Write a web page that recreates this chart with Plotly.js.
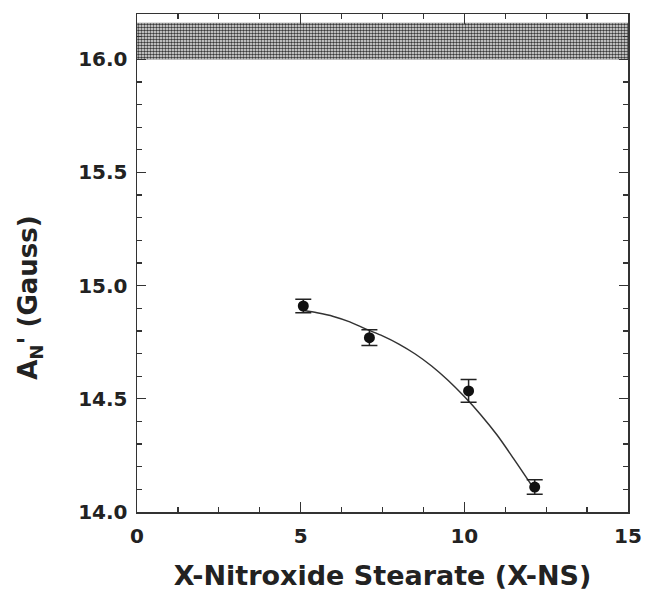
<!DOCTYPE html>
<html>
<head>
<meta charset="utf-8">
<script src="https://cdn.plot.ly/plotly-3.0.1.min.js"></script>
<style>html,body{margin:0;padding:0;background:#fff;}#chart{width:649px;height:601px;}</style>
</head>
<body>
<div id="chart"></div>
<script>
// Data points (position of nitroxide label vs hyperfine splitting)
var pointX = [5.08, 7.1, 10.13, 12.15];
var pointY = [14.91, 14.77, 14.535, 14.11];
var pointErr = [0.03, 0.035, 0.05, 0.032];

// Fitted curve
var curveX = [5.1, 5.5, 6.0, 6.5, 7.0, 7.5, 8.0, 8.5, 9.0, 9.5, 10.0, 10.5, 11.0, 11.5, 12.07];
var curveY = [14.89, 14.88, 14.864, 14.84, 14.808, 14.778, 14.742, 14.698, 14.645, 14.582, 14.51, 14.43, 14.34, 14.237, 14.115];

// Hatched reference band
var bandX = [0, 15, 15, 0, 0];
var bandY = [16.0, 16.0, 16.16, 16.16, 16.0];

var xTickVals = [0, 5, 10, 15];
var xTickText = ['0', '5', '10', '15'];
var yTickVals = [14.0, 14.5, 15.0, 15.5, 16.0];
var yTickText = ['14.0', '14.5', '15.0', '15.5', '16.0'];

var FONT = 'DejaVu Sans, Liberation Sans, Arial, sans-serif';

var traces = [
  {
    x: bandX, y: bandY, type: 'scatter', mode: 'lines',
    fill: 'toself', fillcolor: 'rgba(0,0,0,0)',
    fillpattern: {shape: '.', size: 3, solidity: 0.55, fgcolor: '#3a3a3a', bgcolor: '#f2f2f2'},
    line: {width: 0.5, color: '#777'}, hoverinfo: 'skip', showlegend: false
  },
  {
    x: curveX, y: curveY, type: 'scatter', mode: 'lines',
    line: {shape: 'spline', smoothing: 0.8, color: '#333', width: 1.5}, showlegend: false
  },
  {
    x: pointX, y: pointY, type: 'scatter', mode: 'markers',
    marker: {color: '#111', size: 11},
    error_y: {type: 'data', array: pointErr, visible: true, color: '#222', thickness: 1.5, width: 8},
    showlegend: false
  }
];

var tickFont = {family: FONT, size: 20, color: '#222', weight: 'bold'};

var layout = {
  width: 649, height: 601,
  margin: {l: 137, r: 21, t: 14, b: 89},
  paper_bgcolor: '#fff', plot_bgcolor: '#fff',
  font: {family: FONT, color: '#222'},
  xaxis: {
    range: [0, 15], tickvals: xTickVals, ticktext: xTickText,
    ticks: 'inside', ticklen: 10, tickwidth: 1.3, tickcolor: '#333',
    minor: {dtick: 1.25, tick0: 0, ticks: 'inside', ticklen: 5, tickwidth: 1.2, tickcolor: '#333'},
    showline: true, linecolor: '#333', linewidth: 1.5, mirror: 'allticks',
    showgrid: false, zeroline: false,
    tickfont: tickFont, ticklabelstandoff: 5,
    title: {text: 'X-Nitroxide Stearate (X-NS)', font: {family: FONT, size: 27, color: '#222', weight: 'bold'}, standoff: 19}
  },
  yaxis: {
    range: [14.0, 16.2], tickvals: yTickVals, ticktext: yTickText,
    ticks: 'inside', ticklen: 9, tickwidth: 1.3, tickcolor: '#333',
    minor: {dtick: 0.1, tick0: 14.0, ticks: 'inside', ticklen: 5, tickwidth: 1.2, tickcolor: '#333'},
    showline: true, linecolor: '#333', linewidth: 1.5, mirror: 'allticks',
    showgrid: false, zeroline: false,
    tickfont: tickFont, ticklabelstandoff: 4
  },
  annotations: [
    {
      text: "A<sub>N</sub>' (Gauss)", textangle: -90,
      xref: 'paper', yref: 'paper', x: -0.218, y: 0.43,
      xanchor: 'center', yanchor: 'middle', showarrow: false,
      font: {family: FONT, size: 26, color: '#222', weight: 'bold'}
    }
  ]
};

Plotly.newPlot('chart', traces, layout, {displayModeBar: false, staticPlot: true});
</script>
</body>
</html>
